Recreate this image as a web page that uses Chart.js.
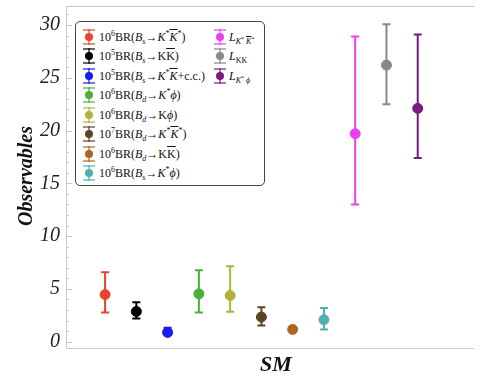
<!DOCTYPE html>
<html><head><meta charset="utf-8">
<script src="https://cdn.jsdelivr.net/npm/chart.js@4/dist/chart.umd.min.js"></script>
<style>
html,body{margin:0;padding:0;background:#fff;}
#wrap{position:relative;width:480px;height:376px;overflow:hidden;}
canvas{position:absolute;left:0;top:0;}
#legend{position:absolute;left:75px;top:21px;width:188px;height:163px;border:1px solid #444;border-radius:5px;background:#fff;font-family:"Liberation Serif",serif;font-size:12px;color:#111;}
.item{position:absolute;height:18px;line-height:18px;white-space:nowrap;}
.mk{position:absolute;width:12px;height:16px;top:1px;}
.mk .v{position:absolute;left:5px;top:0;width:2px;height:16px;}
.mk .c1,.mk .c2{position:absolute;left:0;width:12px;height:2px;}
.mk .c1{top:0}.mk .c2{top:14px}
.mk .d{position:absolute;left:2px;top:4px;width:8px;height:8px;border-radius:50%;}
.tx{position:absolute;top:0;}
sub{font-size:8px;vertical-align:-3px;line-height:0;}
sup{font-size:8px;vertical-align:5px;line-height:0;}
sub sup{font-size:6px;vertical-align:3px;}
.ov{text-decoration:overline;}
i{font-style:italic;}
</style></head>
<body><div id="wrap"><canvas id="c" width="480" height="376"></canvas><div id="legend"></div></div>
<script>
// data
const categories = ["10^6 BR(Bs->K*K*bar)","10^5 BR(Bs->KKbar)","10^5 BR(Bs->K*Kbar+c.c.)","10^6 BR(Bd->K*phi)","10^6 BR(Bd->Kphi)","10^7 BR(Bd->K*K*bar)","10^6 BR(Bd->KKbar)","10^6 BR(Bs->K*phi)","L_K*K*","L_KK","L_K*phi"];
const xPositions = [1,2,3,4,5,6,7,8,9,10,11];
const centralValues = [4.46,2.86,0.88,4.53,4.37,2.33,1.16,2.08,19.7,26.2,22.1];
const upperValues  = [6.57,3.74,1.32,6.76,7.14,3.27,1.22,3.18,28.9,30.07,29.1];
const lowerValues  = [2.77,2.20,0.72,2.77,2.83,1.54,1.10,1.16,13.0,22.5,17.4];
const colors = ["#e8432e","#000000","#1a1af5","#4caf38","#b2b23a","#5e4426","#b0651f","#4fb0b0","#ee3ef0","#888888","#7b1b80"];
const legendHTML = [
 '10<sup>6</sup>BR(<i>B<sub>s</sub></i>→<i>K</i><sup>*</sup><span class="ov"><i>K</i></span><sup>*</sup>)',
 '10<sup>5</sup>BR(<i>B<sub>s</sub></i>→K<span class="ov">K</span>)',
 '10<sup>5</sup>BR(<i>B<sub>s</sub></i>→<i>K</i><sup>*</sup><span class="ov"><i>K</i></span>+c.c.)',
 '10<sup>6</sup>BR(<i>B<sub>d</sub></i>→<i>K</i><sup>*</sup><i>ϕ</i>)',
 '10<sup>6</sup>BR(<i>B<sub>d</sub></i>→K<i>ϕ</i>)',
 '10<sup>7</sup>BR(<i>B<sub>d</sub></i>→<i>K</i><sup>*</sup><span class="ov"><i>K</i></span><sup>*</sup>)',
 '10<sup>6</sup>BR(<i>B<sub>d</sub></i>→K<span class="ov">K</span>)',
 '10<sup>6</sup>BR(<i>B<sub>s</sub></i>→<i>K</i><sup>*</sup><i>ϕ</i>)',
 '<i>L</i><sub><i>K</i><sup>*</sup> <span class="ov"><i>K</i></span><sup>*</sup></sub>',
 '<i>L</i><sub>KK</sub>',
 '<i>L</i><sub><i>K</i><sup>*</sup> <i>ϕ</i></sub>'
];
const yTicks = [0,5,10,15,20,25,30];
const yTitle = 'Observables';
const xTitle = 'SM';

// legend
const lg = document.getElementById('legend');
legendHTML.forEach((h,i)=>{
  const col = i<8?0:1, row = i<8?i:i-8;
  const d = document.createElement('div');
  d.className='item';
  d.style.left = (col===0?7:138)+'px';
  d.style.top = (5.5+row*19.5)+'px';
  d.innerHTML = '<div class="mk"><div class="v" style="background:'+colors[i]+';opacity:.6"></div><div class="c1" style="background:'+colors[i]+';opacity:.6"></div><div class="c2" style="background:'+colors[i]+';opacity:.6"></div><div class="d" style="background:'+colors[i]+'"></div></div><span class="tx" style="left:'+(col===0?16:15)+'px">'+h+'</span>';
  lg.appendChild(d);
});

const errPlugin = {
  id:'err',
  beforeDatasetsDraw(chart){
    const ctx=chart.ctx, xs=chart.scales.x, ys=chart.scales.y;
    ctx.save();
    ctx.lineWidth=2;
    xPositions.forEach((x,i)=>{
      const px=xs.getPixelForValue(x), pu=ys.getPixelForValue(upperValues[i]), pl=ys.getPixelForValue(lowerValues[i]);
      ctx.strokeStyle=colors[i];
      ctx.beginPath();
      ctx.moveTo(px,pu);ctx.lineTo(px,pl);
      ctx.moveTo(px-4,pu);ctx.lineTo(px+4,pu);
      ctx.moveTo(px-4,pl);ctx.lineTo(px+4,pl);
      ctx.stroke();
    });
    ctx.restore();
  },
  afterDraw(chart){
    const ctx=chart.ctx, ys=chart.scales.y, a=chart.chartArea;
    ctx.save();
    ctx.strokeStyle='#c8c8c8';ctx.lineWidth=1;
    ctx.beginPath();
    ctx.moveTo(a.left+0.5,a.top+0.5);ctx.lineTo(a.left+0.5,a.bottom+0.5);ctx.lineTo(a.right,a.bottom+0.5);
    ctx.moveTo(a.left,a.top+0.5);ctx.lineTo(a.right,a.top+0.5);
    for(let v=0;v<=31;v++){
      const py=Math.round(ys.getPixelForValue(v))+0.5;
      const len = v%5===0?6:3;
      ctx.moveTo(a.left,py);ctx.lineTo(a.left+len,py);
    }
    ctx.stroke();
    // titles
    ctx.fillStyle='#111';
    ctx.textAlign='center';ctx.textBaseline='middle';
    ctx.font='italic bold 22px "Liberation Serif"';
    ctx.fillText(xTitle,276,365);
    ctx.translate(27,176);ctx.rotate(-Math.PI/2);
    ctx.font='italic bold 20px "Liberation Serif"';
    ctx.fillText(yTitle,0,0);
    ctx.restore();
  }
};

new Chart(document.getElementById('c'),{
  type:'scatter',
  data:{datasets:[{
    data: xPositions.map((x,i)=>({x:x,y:centralValues[i]})),
    pointBackgroundColor: colors,
    pointBorderColor: colors,
    pointRadius:5,
    pointHoverRadius:5
  }]},
  options:{
    responsive:false,animation:false,
    layout:{padding:{top:5,right:0,left:0,bottom:0}},
    plugins:{legend:{display:false},tooltip:{enabled:false}},
    scales:{
      x:{min:-0.25,max:12.8,
        grid:{display:false,drawTicks:false},border:{display:false},
        ticks:{display:false},
        afterFit(s){s.height=28;s.paddingLeft=0;s.paddingRight=0;}
      },
      y:{min:-0.6,max:31.8,
        grid:{display:false,drawTicks:false},border:{display:false},
        afterBuildTicks(s){s.ticks=yTicks.map(v=>({value:v}));},
        ticks:{font:{family:'Liberation Serif',size:20,style:'italic'},color:'#222',padding:6},
        afterFit(s){s.width=66;s.paddingTop=0;s.paddingBottom=0;}
      }
    }
  },
  plugins:[errPlugin]
});
</script></body></html>
